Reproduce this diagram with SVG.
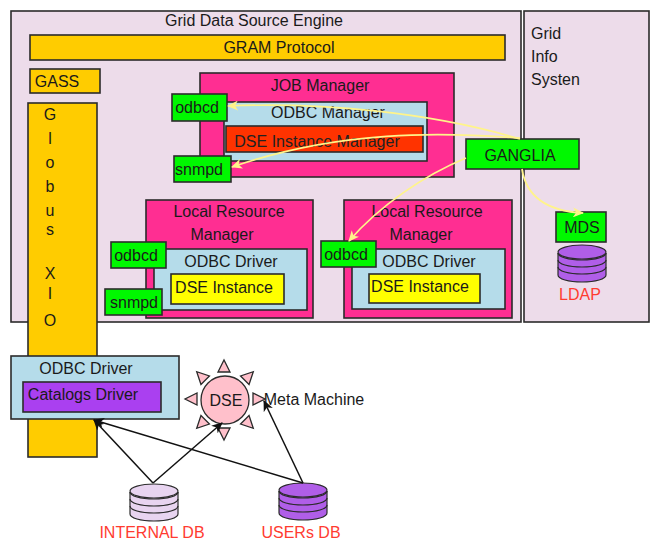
<svg xmlns="http://www.w3.org/2000/svg" width="650" height="540" viewBox="0 0 650 540">
<defs>
<style>
text{font-family:"Liberation Sans",Arial,sans-serif;font-size:16px;fill:#1a1a1a;text-anchor:middle}
.s{stroke:#2b2b2b;stroke-width:1.6}
.panel{fill:#eddcea}
.y{fill:#ffcc00}
.p{fill:#ff2e92}
.b{fill:#b5dcea}
.g{fill:#00f800}
.st{text-anchor:start}
.r{fill:#ff3b30}
.ray{fill:#ffc0cb;stroke:#2b2b2b;stroke-width:1.3}
.cy{stroke:#2b2b2b;stroke-width:1.2}
.yl{fill:none;stroke:#fff48a;stroke-width:1.7}
.bk{fill:none;stroke:#111;stroke-width:1.5}
</style>
<marker id="ya" markerWidth="12" markerHeight="10" refX="10" refY="5" orient="auto" markerUnits="userSpaceOnUse"><path d="M0 0L11 5L0 10L3 5Z" fill="#fff48a"/></marker>
<marker id="ka" markerWidth="12" markerHeight="10" refX="10" refY="5" orient="auto" markerUnits="userSpaceOnUse"><path d="M0 0L11 5L0 10L3 5Z" fill="#111"/></marker>
<g id="cyl"><path d="M0 8V30C0 34 10.500 37 24 37S48 34 48 30V8"/><ellipse cx="24" cy="7" rx="24" ry="7"/><path d="M0 15C0 19 10.500 22 24 22S48 19 48 15M0 22C0 26 10.500 29 24 29S48 26 48 22M0 8C0 12 10.500 15 24 15S48 12 48 8" fill="none"/></g>
<path id="ray" d="M-6 -28L6 -28L0 -40Z"/>
</defs>
<g id="grid-engine"><rect class="panel s" x="11" y="11" width="510" height="311"/><text x="254" y="26">Grid Data Source Engine</text></g>
<g id="grid-info"><rect class="panel s" x="524" y="11" width="125" height="311"/><text class="st" x="531" y="39">Grid</text><text class="st" x="531" y="62">Info</text><text class="st" x="531" y="85">Systen</text></g>
<g id="gram"><rect class="y s" x="30" y="35" width="475" height="25"/><text x="279" y="53">GRAM Protocol</text></g>
<g id="gass"><rect class="y s" x="30" y="69" width="70" height="24"/><text x="57" y="87">GASS</text></g>
<g id="globus"><rect class="y s" x="28" y="103" width="69" height="354"/>
<text x="50" y="120">G</text><text x="50" y="144">l</text><text x="50" y="168">o</text><text x="50" y="192">b</text><text x="50" y="216">u</text><text x="50" y="235">s</text><text x="50" y="279">X</text><text x="50" y="299">I</text><text x="50" y="326">O</text></g>
<g id="job-manager"><rect class="p s" x="200" y="73" width="254" height="104"/><text x="320" y="91">JOB Manager</text></g>
<g id="odbc-manager"><rect class="b s" x="224" y="102" width="203" height="59"/><text x="328" y="118">ODBC Manager</text></g>
<g id="dse-instance-manager"><rect class="s" fill="#ff3300" x="226" y="126" width="197" height="26"/><text x="317" y="147" style="fill:#222">DSE Instance Manager</text></g>
<g id="odbcd-1"><rect class="g s" x="172" y="94" width="55" height="27"/><text x="197" y="113">odbcd</text></g>
<g id="snmpd-1"><rect class="g s" x="174" y="156" width="57" height="26"/><text x="199" y="175">snmpd</text></g>
<g id="lrm-1"><rect class="p s" x="146" y="200" width="167" height="118"/><text x="229" y="217">Local Resource</text><text x="222" y="240">Manager</text></g>
<g id="odbc-driver-1"><rect class="b s" x="154" y="249" width="153" height="61"/><text x="231" y="267">ODBC Driver</text></g>
<g id="dse-instance-1"><rect class="s" fill="#ffff00" x="171" y="274" width="113" height="30"/><text x="224" y="293">DSE Instance</text></g>
<g id="odbcd-2"><rect class="g s" x="111" y="242" width="55" height="26"/><text x="136" y="261">odbcd</text></g>
<g id="snmpd-2"><rect class="g s" x="105" y="289" width="57" height="26"/><text x="134" y="308">snmpd</text></g>
<g id="lrm-2"><rect class="p s" x="344" y="200" width="168" height="118"/><text x="427" y="217">Local Resource</text><text x="421" y="240">Manager</text></g>
<g id="odbc-driver-2"><rect class="b s" x="352" y="249" width="153" height="60"/><text x="429" y="267">ODBC Driver</text></g>
<g id="dse-instance-2"><rect class="s" fill="#ffff00" x="369" y="274" width="111" height="29"/><text x="420" y="292">DSE Instance</text></g>
<g id="odbcd-3"><rect class="g s" x="321" y="241" width="55" height="26"/><text x="346" y="260">odbcd</text></g>
<g id="ganglia"><rect class="g s" x="466" y="139" width="113" height="30"/><text x="520" y="161">GANGLIA</text></g>
<g id="mds"><rect class="g s" x="556" y="212" width="50" height="30"/><text x="582" y="233">MDS</text></g>
<g id="ldap"><use href="#cyl" x="558" y="245" fill="#b05ee8" class="cy"/><text x="580" y="300" class="r">LDAP</text></g>
<g id="odbc-driver-3"><rect class="b s" x="11" y="356" width="168" height="63"/><text x="86" y="374">ODBC Driver</text></g>
<g id="catalogs-driver"><rect class="s" fill="#aa40f0" x="23" y="382" width="138" height="30"/><text x="83" y="400">Catalogs Driver</text></g>
<g id="dse"><circle class="ray" cx="225" cy="400" r="24"/>
<use href="#ray" class="ray" transform="translate(224 400)"/>
<use href="#ray" class="ray" transform="translate(225 400) rotate(45)"/>
<use href="#ray" class="ray" transform="translate(225 399) rotate(90)"/>
<use href="#ray" class="ray" transform="translate(225 400) rotate(135)"/>
<use href="#ray" class="ray" transform="translate(224 400) rotate(180)"/>
<use href="#ray" class="ray" transform="translate(225 400) rotate(225)"/>
<use href="#ray" class="ray" transform="translate(225 399) rotate(270)"/>
<use href="#ray" class="ray" transform="translate(225 400) rotate(315)"/>
<text x="226" y="406">DSE</text></g>
<g id="meta-label"><text x="314" y="405">Meta Machine</text></g>
<g id="internal-db"><use href="#cyl" x="130" y="484" fill="#e8d4f0" class="cy"/><text x="152" y="538" class="r">INTERNAL DB</text></g>
<g id="users-db"><use href="#cyl" x="279" y="483" fill="#b05ee8" class="cy"/><text x="301" y="538" class="r">USERs DB</text></g>
<g id="connectors">
<path class="yl" d="M520 139C430 112 320 102 228 106" marker-end="url(#ya)"/>
<path class="yl" d="M520 138C440 132 340 130 232 167" marker-end="url(#ya)"/>
<path class="yl" d="M466 158C425 175 380 205 349 241" marker-end="url(#ya)"/>
<path class="yl" d="M522 169C526 195 545 211 583 213" marker-end="url(#ya)"/>
<path class="bk" d="M153 483L94 420" marker-end="url(#ka)"/>
<path class="bk" d="M153 483L222 423" marker-end="url(#ka)"/>
<path class="bk" d="M303 483L94 420" marker-end="url(#ka)"/>
<path class="bk" d="M303 483L264 401" marker-end="url(#ka)"/>
</g>
</svg>
